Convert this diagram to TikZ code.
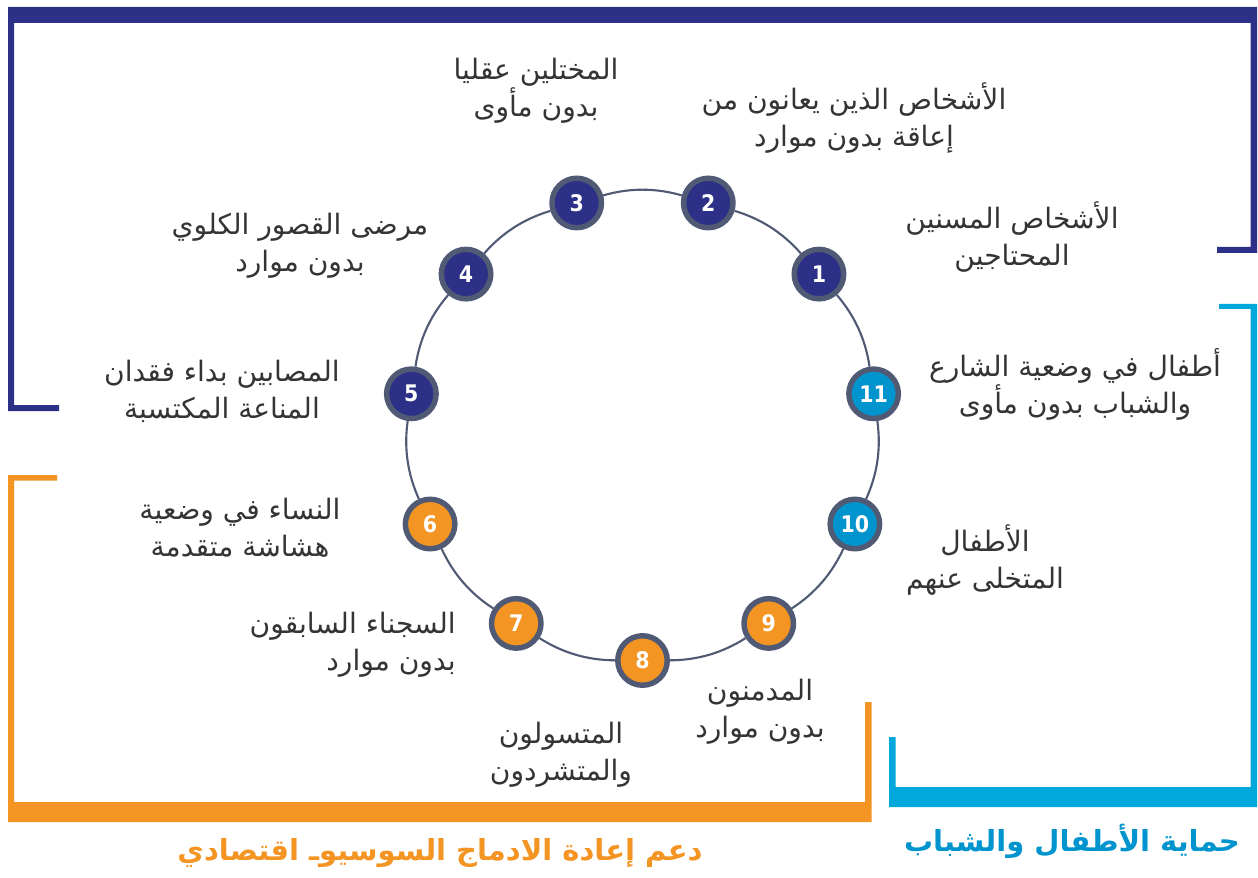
\documentclass[tikz,border=0pt]{standalone}
\usepackage{fontspec}
\usepackage{xcolor}
\setmainfont{DejaVu Sans}
\newfontfamily\arabicfont[Script=Arabic]{DejaVu Sans}
\newfontfamily\numfont{DejaVu Sans Condensed}
\TeXXeTstate=1

\definecolor{navyblue}{RGB}{44,48,135}
\definecolor{orangeband}{RGB}{243,148,35}
\definecolor{cyanband}{RGB}{0,168,220}
\definecolor{cyannum}{RGB}{0,148,206}
\definecolor{ringgray}{RGB}{80,90,116}
\definecolor{labelgray}{RGB}{52,52,52}

\newcommand{\rl}[1]{\beginR #1\endR}

\begin{document}
\begin{tikzpicture}[x=0.02cm, y=0.02cm,
  num/.style={circle, draw=ringgray, line width=3.1pt, minimum size=0.99cm, inner sep=0pt, text=white, font=\numfont\bfseries\fontsize{13}{13}\selectfont},
  lbl/.style={align=center, inner sep=0pt, text=labelgray, font=\arabicfont\fontsize{16}{21}\selectfont},
  grouptitle/.style={inner sep=0pt, font=\arabicfont\bfseries\fontsize{16.5}{20}\selectfont},
  ring/.style={draw=ringgray, line width=1.2pt, bend right=16, looseness=0.9}]

  \useasboundingbox (0,0) rectangle (1258,877);

  % Brackets for the three groups
  \fill[navyblue] (8,870) rectangle (1257,854) (8,870) rectangle (14,466) (8,472) rectangle (59,466)
    (1250.5,870) rectangle (1257,624) (1217,630) rectangle (1257,624);
  \fill[cyanband] (1219,573) rectangle (1257,568) (1250.5,573) rectangle (1257,70)
    (889,90) rectangle (1257,70) (889,140) rectangle (895.5,70);
  \fill[orangeband] (8,402) rectangle (57,396.5) (8,402) rectangle (14,55)
    (8,75) rectangle (871.5,55) (865,175) rectangle (871.5,55);

  % Numbered circles around the ring
  \begin{scope}[shift={(642.5,450)}]
    \node[num, fill=navyblue] (One) at (40.91:233.5) {1};
    \node[num, fill=navyblue] (Two) at (73.64:233.5) {2};
    \node[num, fill=navyblue] (Three) at (106.36:233.5) {3};
    \node[num, fill=navyblue] (Four) at (139.09:233.5) {4};
    \node[num, fill=navyblue] (Five) at (171.82:233.5) {5};
    \node[num, fill=orangeband] (Six) at (204.55:233.5) {6};
    \node[num, fill=orangeband] (Seven) at (237.27:233.5) {7};
    \node[num, fill=orangeband] (Eight) at (270:233.5) {8};
    \node[num, fill=orangeband] (Nine) at (302.73:233.5) {9};
    \node[num, fill=cyannum] (Ten) at (335.45:233.5) {10};
    \node[num, fill=cyannum] (Eleven) at (8.18:233.5) {11};
  \end{scope}

  % Ring segments
  \draw[ring] (One) to (Two);
  \draw[ring] (Two) to (Three);
  \draw[ring] (Three) to (Four);
  \draw[ring] (Four) to (Five);
  \draw[ring] (Five) to (Six);
  \draw[ring] (Six) to (Seven);
  \draw[ring] (Seven) to (Eight);
  \draw[ring] (Eight) to (Nine);
  \draw[ring] (Nine) to (Ten);
  \draw[ring] (Ten) to (Eleven);
  \draw[ring] (Eleven) to (One);

  % Labels next to the circles
  \node[lbl] (LOne) at (1012,640) {\rl{الأشخاص المسنين}\\\rl{المحتاجين}};
  \node[lbl] (LTwo) at (854,759) {\rl{الأشخاص الذين يعانون من}\\\rl{إعاقة بدون موارد}};
  \node[lbl] (LThree) at (536,786) {\rl{المختلين عقليا}\\\rl{بدون مأوى}};
  \node[lbl] (LFour) at (300,631) {\rl{مرضى القصور الكلوي}\\\rl{بدون موارد}};
  \node[lbl] (LFive) at (222,486) {\rl{المصابين بداء فقدان}\\\rl{المناعة المكتسبة}};
  \node[lbl] (LSix) at (240,349) {\rl{النساء في وضعية}\\\rl{هشاشة متقدمة}};
  \node[lbl, align=right, anchor=east] (LSeven) at (456,232) {\rl{السجناء السابقون}\\\rl{بدون موارد}};
  \node[lbl] (LEight) at (561,122) {\rl{المتسولون}\\\rl{والمتشردون}};
  \node[lbl] (LNine) at (760,165) {\rl{المدمنون}\\\rl{بدون موارد}};
  \node[lbl] (LTen) at (985,317) {\rl{الأطفال}\\\rl{المتخلى عنهم}};
  \node[lbl] (LEleven) at (1075,493) {\rl{أطفال في وضعية الشارع}\\\rl{والشباب بدون مأوى}};

  % Group titles
  \node[grouptitle, text=orangeband] (Reinsertion) at (440,24) {\rl{دعم إعادة الادماج السوسيوـ اقتصادي}};
  \node[grouptitle, text=cyannum] (Protection) at (1072,36) {\rl{حماية الأطفال والشباب}};

\end{tikzpicture}
\end{document}
